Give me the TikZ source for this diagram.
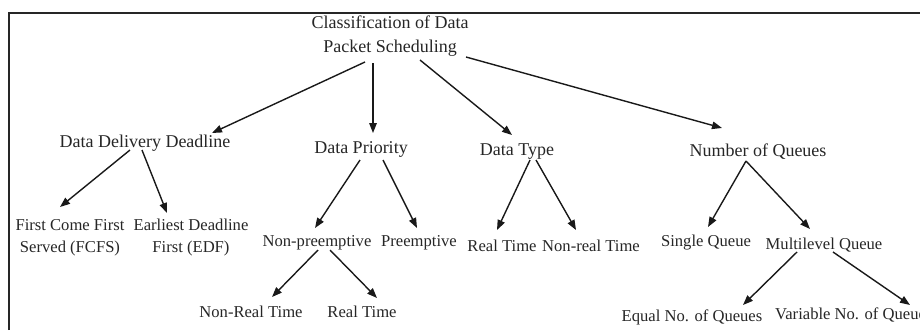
\documentclass[tikz,border=0pt]{standalone}
\usepackage{fontspec}
\setmainfont{Liberation Serif}
\usetikzlibrary{arrows.meta,calc}
\tikzset{
  big/.style={inner sep=0pt, anchor=base, align=center, text=black!85, font=\fontsize{18}{24}\selectfont},
  small/.style={inner sep=0pt, anchor=base, align=center, text=black!85, font=\fontsize{16.6}{22}\selectfont},
  arr/.style={line width=1.4pt, draw=black!90, -{Triangle[length=10pt,width=7.5pt]}},
  frame/.style={line width=2pt, draw=black!85}
}
\begin{document}
\begin{tikzpicture}[x=1pt,y=-1pt]
\useasboundingbox (0,0) rectangle (920,330);
\draw[frame] (9,330) coordinate (fbl) -- (9,13) coordinate (ftl) -- (921,13) coordinate (ftr);
% nodes (multi-line nodes: base = baseline of last line)
\node[big] (root) at (390,52) {Classification of Data\\Packet Scheduling};
\node[big] (ddd) at (145,147) {Data Delivery Deadline};
\node[big] (dp) at (361,153) {Data Priority};
\node[big] (dt) at (517,155) {Data Type};
\node[big] (noq) at (758,156) {Number of Queues};
\node[small] (fcfs) at (70,252) {First Come First\\Served (FCFS)};
\node[small] (edf) at (191,252) {Earliest Deadline\\First (EDF)};
\node[small] (np) at (317,246) {Non-preemptive};
\node[small] (pre) at (419,246) {Preemptive};
\node[small] (rt) at (502,251) {Real Time};
\node[small] (nrt) at (591,251) {Non-real Time};
\node[small] (sq) at (706,246) {Single Queue};
\node[small] (mq) at (824,249) {Multilevel Queue};
\node[small] (nrt3) at (251,317) {Non-Real Time};
\node[small] (rt3) at (362,317) {Real Time};
\node[small] (eq) at (692,321) {Equal No. of Queues};
\node[small, anchor=base west] (vq) at (775,319) {Variable No. of Queues};
% connectors
\draw[arr] ($(root.base)+(-25,10)$) -- ($(ddd.base)+(67,-14)$);
\draw[arr] ($(root.base)+(-17,11)$) -- ($(dp.base)+(12,-20)$);
\draw[arr] ($(root.base)+(30,8)$) -- ($(dt.base)+(-5,-20)$);
\draw[arr] ($(root.base)+(76,5)$) -- ($(noq.base)+(-36,-28)$);
\draw[arr] ($(ddd.base)+(-15,3)$) -- ($(fcfs.base)+(-10,-45)$);
\draw[arr] ($(ddd.base)+(-3,3)$) -- ($(edf.base)+(-24,-39)$);
\draw[arr] ($(dp.base)+(-1,7)$) -- ($(np.base)+(-2,-18)$);
\draw[arr] ($(dp.base)+(22,7)$) -- ($(pre.base)+(-2,-18)$);
\draw[arr] ($(dt.base)+(13,5)$) -- ($(rt.base)+(-5,-21)$);
\draw[arr] ($(dt.base)+(19,5)$) -- ($(nrt.base)+(-15,-21)$);
\draw[arr] ($(noq.base)+(-12,5)$) -- ($(sq.base)+(2,-19)$);
\draw[arr] ($(noq.base)+(-12,5)$) -- ($(mq.base)+(-14,-20)$);
\draw[arr] ($(np.base)+(1,4)$) -- ($(nrt3.base)+(21,-20)$);
\draw[arr] ($(np.base)+(13,4)$) -- ($(rt3.base)+(15,-19)$);
\draw[arr] ($(mq.base)+(-27,3)$) -- ($(eq.base)+(51,-16)$);
\draw[arr] ($(mq.base)+(9,3)$) -- ($(vq.base west)+(135,-14)$);
\end{tikzpicture}
\end{document}
